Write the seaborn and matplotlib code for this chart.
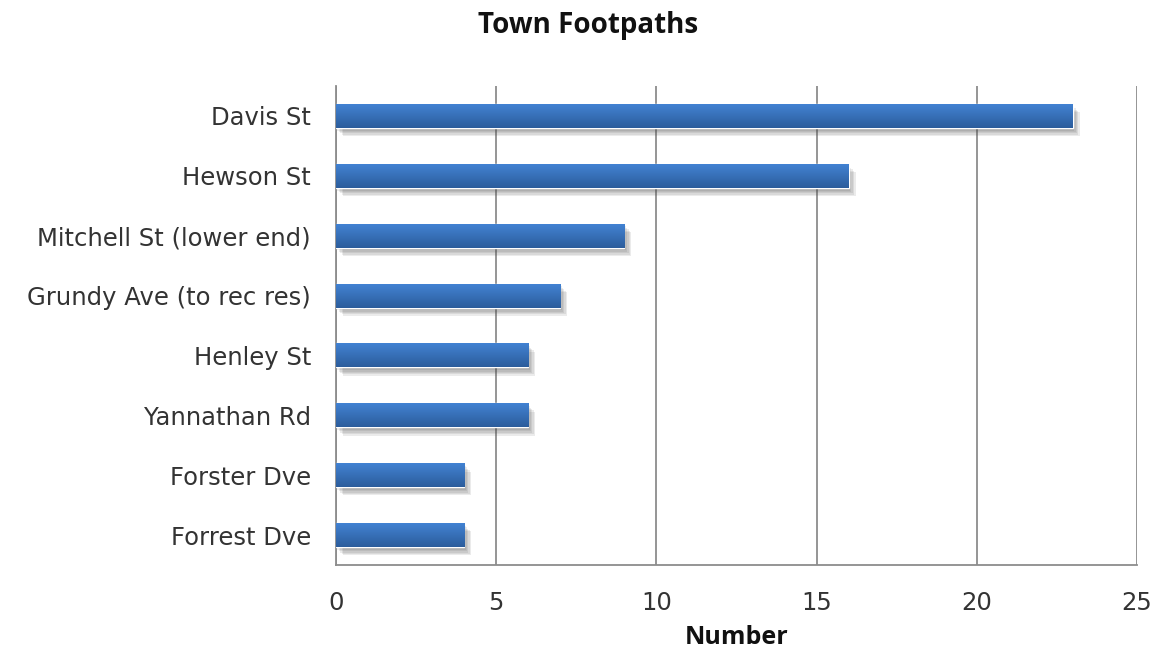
import numpy as np
import pandas as pd
import matplotlib
matplotlib.use("Agg")
import matplotlib.pyplot as plt
import matplotlib.patheffects as pe
from matplotlib.colors import LinearSegmentedColormap
import seaborn as sns

streets = ["Davis St", "Hewson St", "Mitchell St (lower end)", "Grundy Ave (to rec res)",
           "Henley St", "Yannathan Rd", "Forster Dve", "Forrest Dve"]
counts = [23, 16, 9, 7, 6, 6, 4, 4]
x_ticks = [0, 5, 10, 15, 20, 25]

df = pd.DataFrame({"street": streets, "count": counts})

sns.set_theme(style="white")
plt.rcParams['font.family'] = ['DejaVu Sans']

fig = plt.figure(figsize=(11.55, 6.55), dpi=100)
ax = fig.add_axes([336/1155, (655-565)/655, (1137-336)/1155, (565-86)/655])

sns.barplot(data=df, x="count", y="street", orient="h", color="#3a72b9",
            width=0.4, ax=ax, zorder=3, saturation=1)

cmap = LinearSegmentedColormap.from_list("g", ["#4282d2", "#2c5d9c"])
grad = np.linspace(0, 1, 64).reshape(-1, 1)
shadows = [pe.SimplePatchShadow(offset=(o, -o - 1), shadow_rgbFace="#444444", alpha=0.10)
           for o in (1, 2, 3, 4, 5)]
for p in ax.patches:
    p.set_path_effects(shadows + [pe.Normal()])
    x0, y0 = p.get_x(), p.get_y()
    w, h = p.get_width(), p.get_height()
    im = ax.imshow(grad, cmap=cmap, aspect="auto", extent=[x0, x0 + w, y0 + h, y0],
                   zorder=4, interpolation="bilinear")
    im.set_clip_path(p)

ax.set_xlim(0, 25)
ax.set_ylim(7.5, -0.5)
ax.set_xticks(x_ticks)
ax.set_xticklabels([str(t) for t in x_ticks])
ax.xaxis.grid(True, color="#8c8c8c", linewidth=1.3, zorder=0)
ax.yaxis.grid(False)
for s in ["top", "right"]:
    ax.spines[s].set_visible(False)
for s in ["left", "bottom"]:
    ax.spines[s].set_visible(True)
    ax.spines[s].set_color("#8c8c8c")
    ax.spines[s].set_linewidth(1.3)
ax.tick_params(axis="both", length=0, labelsize=17.5, colors="#333333")
ax.tick_params(axis="y", pad=18)
ax.tick_params(axis="x", pad=19)
ax.set_ylabel("")
ax.set_xlabel("Number", fontsize=18, fontweight="bold", color="#111111",
              family=["Open Sans", "DejaVu Sans"], labelpad=7)
fig.text(588/1155, 1 - 26/655, "Town Footpaths", ha="center", va="center",
         fontsize=20, fontweight="bold", color="#111111", family=["Open Sans", "DejaVu Sans"])

fig.savefig("out.png", dpi=100)
